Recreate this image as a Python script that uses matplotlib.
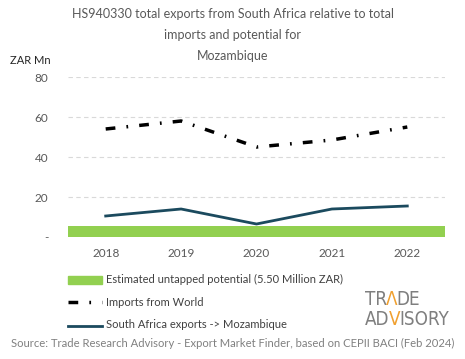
import numpy as np
import matplotlib.pyplot as plt

years = ["2018", "2019", "2020", "2021", "2022"]
imports_world = [54, 58, 45, 48.5, 55]
sa_exports = [10.5, 14, 6.5, 14, 15.5]
untapped = 5.5
yticks = [0, 20, 40, 60, 80]
ytick_labels = ["-", "20", "40", "60", "80"]

plt.rcParams['font.family'] = ['Lato', 'DejaVu Sans']

fig = plt.figure(figsize=(4.65, 3.59), dpi=100)
ax = fig.add_axes([68/465, 1-237/359, (445-68)/465, 160/359])

dash = (2.8, 3.2, 0.5, 3.2)
x = np.arange(len(years))
ax.fill_between([-0.5, len(years)-0.5], 0, untapped, color="#92d050", lw=0)
ax.plot(x, imports_world, color="black", lw=2.5, dashes=dash)
ax.plot(x, sa_exports, color="#1b4a5e", lw=2)

ax.set_xlim(-0.5, len(years)-0.5)
ax.set_ylim(0, 80)
ax.set_yticks(yticks)
ax.set_yticklabels(ytick_labels)
ax.set_xticks(x)
ax.set_xticklabels(years)
ax.yaxis.grid(True, color="#d9d9d9", ls=(0, (4, 3)), lw=0.8)
ax.set_axisbelow(True)
for s in ax.spines.values():
    s.set_visible(False)
ax.tick_params(length=0, colors="#595959", labelsize=8.5)
ax.tick_params(axis="x", pad=8)
ax.tick_params(axis="y", pad=14)

tc = "#595959"
fig.text(0.5, 1-14/359, "HS940330 total exports from South Africa relative to total", ha="center", va="center", fontsize=9, color=tc)
fig.text(0.5, 1-35/359, "imports and potential for", ha="center", va="center", fontsize=9, color=tc)
fig.text(0.5, 1-56/359, "Mozambique", ha="center", va="center", fontsize=9, color=tc)
fig.text(10/465, 1-60/359, "ZAR Mn", ha="left", va="center", fontsize=8, color="#262626")

# legend
lx0, lx1 = 68/465, 102/465
fig.patches.append(plt.Rectangle((lx0, 1-284/359), lx1-lx0, 8/359, transform=fig.transFigure, color="#92d050"))
fig.text(106/465, 1-279/359, "Estimated untapped potential (5.50 Million ZAR)", va="center", fontsize=8, color="#404040")
fig.add_artist(plt.Line2D([lx0, lx1], [1-302/359]*2, transform=fig.transFigure, color="black", lw=2.5, dashes=dash))
fig.text(106/465, 1-302/359, "Imports from World", va="center", fontsize=8, color="#404040")
fig.add_artist(plt.Line2D([lx0, lx1], [1-326/359]*2, transform=fig.transFigure, color="#1b4a5e", lw=2))
fig.text(106/465, 1-325/359, "South Africa exports -> Mozambique", va="center", fontsize=8, color="#404040")

fig.text(0.5, 1-343/359, "Source: Trade Research Advisory - Export Market Finder, based on CEPII BACI (Feb 2024)", ha="center", va="center", fontsize=8.1, color="#808080")

# logo, drawn piece by piece so the zigzag letters can be orange
renderer = fig.canvas.get_renderer()
gray, orange = "#7f7f7f", "#f0a030"

def logo_row(x0, y0, parts):
    xp = x0
    for s, c in parts:
        t = fig.text(xp / 465, 1 - y0 / 359, s, ha="left", va="baseline", fontsize=13.5,
                     color=c, family="DejaVu Sans", fontweight="light", fontstretch="condensed")
        xp = t.get_window_extent(renderer).x1 - 1

logo_row(365, 305, [("TR", gray), ("Λ", orange), ("DE", gray)])
logo_row(365, 325, [("AD", gray), ("V", orange), ("ISORY", gray)])

fig.savefig("out.png", dpi=100)
